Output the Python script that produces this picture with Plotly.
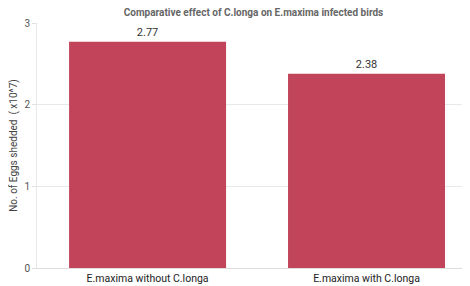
import plotly.graph_objects as go

categories = ["E.maxima without C.longa", "E.maxima with C.longa"]
values = [2.77, 2.38]
value_labels = ["2.77", "2.38"]
y_ticks = [0, 1, 2, 3]

fig = go.Figure(go.Bar(
    x=[0, 1], y=values,
    text=value_labels, textposition="outside",
    textfont=dict(size=11, color="#333333"),
    marker=dict(color="#C2445A", line=dict(width=0)),
    cliponaxis=False,
))

fig.update_layout(
    width=462, height=278,
    margin=dict(l=29, r=0, t=15, b=18),
    paper_bgcolor="white", plot_bgcolor="white",
    font=dict(family="Roboto, Open Sans, sans-serif", size=10, color="#333333"),
    title=dict(text="<b>Comparative effect of C.longa on E.maxima infected birds</b>",
               xref="paper", x=0.5, xanchor="center", y=0.995, yanchor="top",
               font=dict(size=10, color="#666666")),
    bargap=0.283,
    showlegend=False,
)
fig.update_xaxes(
    tickmode="array", tickvals=[0, 1], ticktext=categories,
    range=[-0.505, 1.4726], showgrid=False, zeroline=False,
    showline=True, linecolor="#dddddd", linewidth=1,
    tickfont=dict(size=10.5, color="#222222"), ticks="", ticklen=0,
)
fig.update_yaxes(
    range=[0, 3], tickvals=y_ticks, showgrid=True, gridcolor="#e8e8e8",
    zeroline=False, showline=True, linecolor="#e8e8e8",
    ticks="outside", ticklen=4, tickcolor="#e0e0e0",
    tickfont=dict(size=10, color="#555555"),
    title=dict(text="No. of Eggs shedded  ( x10^7)", font=dict(size=10, color="#444444"), standoff=7),
)
fig.write_html("out.html")
